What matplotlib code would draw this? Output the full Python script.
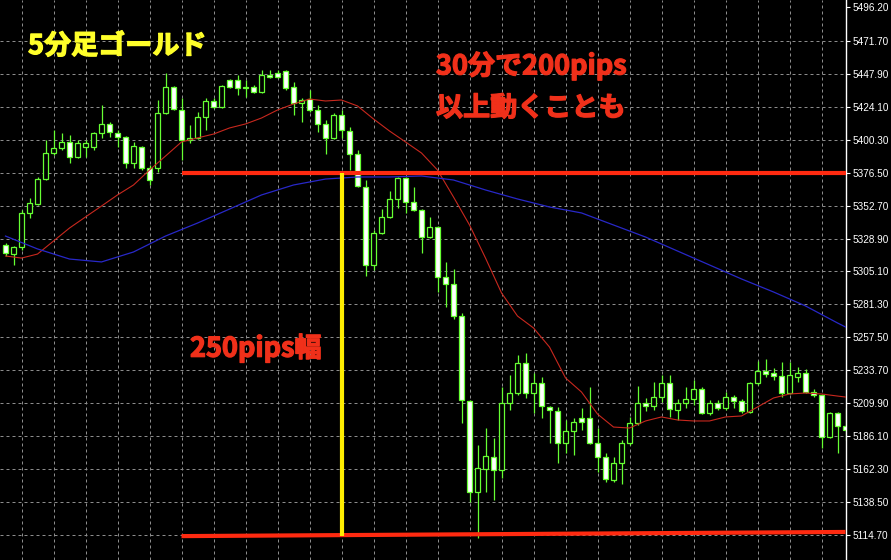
import matplotlib
matplotlib.use("Agg")
import matplotlib.pyplot as plt
import matplotlib.patheffects as pe

# 5-minute gold candles (106 bars)
opens = [
    5324.2, 5317.7, 5322.8, 5347.4, 5353.9, 5371.9, 5390.7, 5394.3, 5398.7, 5387.8,
    5395.1, 5395.1, 5405.2, 5411.7, 5405.2, 5402.3, 5383.5, 5395.1, 5379.9, 5379.9,
    5419.6, 5438.4, 5421.8, 5400.1, 5401.6, 5416.7, 5428.3, 5423.9, 5443.5, 5443.5,
    5438.4, 5438.4, 5434.8, 5447.1, 5448.5, 5450.0, 5438.4, 5426.8, 5429.7, 5421.8,
    5411.7, 5401.6, 5418.2, 5406.6, 5390.0, 5366.1, 5309.8, 5332.9, 5344.5, 5357.5,
    5372.7, 5355.3, 5349.5, 5330.0, 5337.2, 5301.1, 5296.1, 5272.9, 5211.5, 5145.8,
    5162.4, 5171.1, 5161.7, 5210.1, 5217.3, 5239.0, 5217.3, 5224.5, 5207.2, 5204.3,
    5181.2, 5189.9, 5199.2, 5199.2, 5181.2, 5171.1, 5154.4, 5166.7, 5181.2, 5195.6,
    5210.1, 5207.9, 5214.4, 5224.5, 5205.0, 5210.1, 5213.0, 5220.2, 5202.9, 5210.1,
    5206.5, 5214.4, 5211.5, 5203.6, 5224.5, 5233.2, 5231.8, 5229.6, 5217.3, 5228.9,
    5231.8, 5218.0, 5215.9, 5185.5, 5202.9, 5193.5,
]
highs = [
    5325.7, 5323.5, 5349.5, 5358.2, 5373.4, 5400.1, 5407.3, 5405.2, 5403.7, 5400.1,
    5400.1, 5405.9, 5425.4, 5413.1, 5407.3, 5403.0, 5398.7, 5395.8, 5382.0, 5429.0,
    5448.5, 5439.1, 5430.5, 5411.0, 5420.3, 5430.5, 5430.5, 5439.8, 5444.2, 5447.1,
    5443.5, 5439.8, 5450.7, 5450.7, 5450.7, 5450.7, 5442.0, 5430.5, 5436.2, 5425.4,
    5414.6, 5419.6, 5421.8, 5409.5, 5392.9, 5371.2, 5335.1, 5350.2, 5363.3, 5373.4,
    5373.4, 5366.1, 5350.2, 5344.5, 5338.0, 5312.0, 5306.9, 5275.1, 5212.2, 5179.7,
    5192.0, 5184.8, 5221.6, 5230.3, 5244.8, 5246.2, 5231.8, 5228.9, 5207.9, 5207.2,
    5197.8, 5199.2, 5206.5, 5221.6, 5192.0, 5174.0, 5171.1, 5183.4, 5200.0, 5222.3,
    5213.7, 5225.2, 5230.3, 5230.3, 5213.0, 5221.6, 5226.7, 5221.6, 5212.2, 5212.2,
    5218.0, 5215.9, 5213.0, 5225.2, 5240.4, 5241.9, 5235.4, 5239.7, 5239.7, 5236.1,
    5234.7, 5220.2, 5216.6, 5203.6, 5203.6, 5206.5,
]
lows = [
    5316.3, 5309.8, 5320.6, 5343.7, 5353.1, 5371.2, 5389.3, 5392.9, 5383.5, 5387.1,
    5387.8, 5392.9, 5401.6, 5402.3, 5395.1, 5379.9, 5379.9, 5378.4, 5367.6, 5377.0,
    5418.9, 5421.8, 5385.7, 5397.9, 5400.8, 5407.3, 5423.2, 5423.2, 5437.7, 5432.6,
    5431.2, 5434.1, 5434.1, 5444.9, 5444.9, 5436.2, 5418.2, 5413.1, 5420.3, 5405.9,
    5390.0, 5400.8, 5401.6, 5378.4, 5366.1, 5301.8, 5306.2, 5332.2, 5343.7, 5351.0,
    5347.4, 5348.8, 5318.5, 5329.3, 5290.3, 5279.4, 5270.8, 5195.6, 5138.5, 5112.5,
    5145.8, 5140.0, 5155.9, 5205.0, 5215.9, 5213.7, 5202.9, 5199.2, 5181.2, 5166.7,
    5174.0, 5172.5, 5190.6, 5180.5, 5160.2, 5153.0, 5153.0, 5151.5, 5179.7, 5194.2,
    5204.3, 5205.0, 5210.8, 5200.0, 5197.8, 5206.5, 5208.6, 5202.1, 5201.4, 5205.0,
    5205.0, 5206.5, 5202.9, 5202.9, 5223.1, 5228.9, 5226.7, 5214.4, 5216.6, 5225.2,
    5217.3, 5214.4, 5177.6, 5184.8, 5174.0, 5183.4,
]
closes = [
    5318.5, 5322.8, 5347.4, 5354.6, 5371.9, 5390.7, 5394.3, 5398.7, 5387.8, 5397.9,
    5397.9, 5405.2, 5411.7, 5405.9, 5402.3, 5383.5, 5395.8, 5379.9, 5371.2, 5419.6,
    5438.4, 5422.5, 5400.1, 5401.6, 5416.7, 5428.3, 5423.9, 5439.1, 5438.4, 5437.7,
    5437.7, 5434.8, 5447.1, 5445.6, 5445.6, 5437.7, 5426.8, 5429.0, 5421.8, 5411.7,
    5401.6, 5418.2, 5407.3, 5390.0, 5366.9, 5309.8, 5332.9, 5344.5, 5357.5, 5372.7,
    5355.3, 5349.5, 5330.0, 5337.2, 5301.1, 5296.1, 5272.9, 5212.2, 5145.8, 5163.1,
    5171.8, 5161.7, 5210.1, 5217.3, 5239.0, 5217.3, 5224.5, 5207.9, 5205.0, 5181.2,
    5189.9, 5196.4, 5196.4, 5181.2, 5171.1, 5155.2, 5166.7, 5181.2, 5195.6, 5210.1,
    5207.9, 5214.4, 5224.5, 5205.8, 5210.1, 5213.0, 5220.2, 5202.9, 5210.1, 5206.5,
    5214.4, 5211.5, 5204.3, 5224.5, 5233.2, 5231.0, 5229.6, 5217.3, 5230.3, 5231.8,
    5218.0, 5215.9, 5185.5, 5202.9, 5193.5, 5190.6,
]

# moving averages (bar index -> price)
ma_fast_idx = list(range(0, 105, 2)) + [105]
ma_fast = [
    5316.3, 5314.8, 5317.7, 5327.1, 5336.5, 5344.5, 5352.4, 5360.4, 5367.6, 5378.4,
    5388.5, 5398.7, 5401.6, 5404.4, 5408.8, 5411.7, 5416.0, 5421.8, 5426.1, 5429.7,
    5428.3, 5429.0, 5424.7, 5415.3, 5406.6, 5398.7, 5390.7, 5378.4, 5358.9, 5338.7,
    5314.8, 5289.6, 5272.9, 5264.3, 5250.5, 5228.2, 5218.0, 5202.1, 5192.7, 5192.0,
    5197.1, 5200.0, 5197.8, 5197.1, 5197.1, 5200.0, 5200.7, 5207.2, 5213.7, 5216.6,
    5217.3, 5216.6, 5215.1, 5214.4,
]
ma_slow_idx = list(range(0, 105, 4)) + [105]
ma_slow = [
    5330.7, 5321.4, 5314.1, 5312.0, 5319.2, 5330.7, 5340.1, 5350.2, 5360.4, 5367.6,
    5371.9, 5373.4, 5373.4, 5374.1, 5371.2, 5364.0, 5357.5, 5351.7, 5347.4, 5338.7,
    5330.0, 5319.9, 5309.8, 5299.7, 5290.3, 5280.2, 5267.9, 5265.0,
]

price_ticks = [5496.20, 5471.70, 5447.90, 5424.10, 5400.30, 5376.50, 5352.70,
               5328.90, 5305.10, 5281.30, 5257.50, 5233.70, 5209.90, 5186.10,
               5162.30, 5138.50, 5114.70]

upper_level = 5376.5
lower_level = (5113.9, 5116.9)   # slight slope left -> right
line_start = 22
move_idx = 42

GREEN = "#66ff33"
RED_TXT = "#f0301a"
JP = ["Noto Sans CJK JP", "DejaVu Sans"]

fig = plt.figure(figsize=(8.91, 5.60), dpi=100, facecolor="black")
ax = fig.add_axes([0, 0, 846 / 891, 1])
ax.set_facecolor("black")
ax.set_xlim(-0.6875, 105.06)
ax.set_ylim(5096.64, 5501.26)

# grid (MT4 style dashed)
for t in price_ticks[1:]:
    ax.axhline(t, color="#8c8c8c", lw=0.72, ls=(0, (3, 3)), zorder=0)
for gx in range(2, 106, 4):
    ax.axvline(gx, color="#8c8c8c", lw=0.72, ls=(0, (3, 3)), zorder=0)

# candles
idx = list(range(len(opens)))
ax.vlines(idx, lows, highs, color=GREEN, lw=0.9, zorder=2)
bottoms = [min(o, c) for o, c in zip(opens, closes)]
heights = [abs(c - o) for o, c in zip(opens, closes)]
fills = ["white" if c < o else "black" for o, c in zip(opens, closes)]
ax.bar(idx, heights, bottom=bottoms, width=0.62, color=fills,
       edgecolor=GREEN, linewidth=0.9, zorder=3)

# moving averages
ax.plot(ma_fast_idx, ma_fast, color="#c8281e", lw=0.8, zorder=4)
ax.plot(ma_slow_idx, ma_slow, color="#2828c8", lw=0.9, zorder=4)

# annotation lines
ax.plot([line_start, 105.06], [upper_level, upper_level], color="#ff2a10",
        lw=3.0, solid_capstyle="butt", zorder=5)
ax.plot([line_start, 105], list(lower_level), color="#ff2a10",
        lw=3.0, solid_capstyle="butt", zorder=5)
ax.plot([move_idx, move_idx], [lower_level[0], upper_level], color="#ffee00",
        lw=3.0, solid_capstyle="butt", zorder=5)


def label(x, y, s, color):
    ax.text(x / 846, 1 - y / 560, s, transform=ax.transAxes, color=color,
            fontsize=19.5, fontweight="bold", family=JP, ha="left", va="center",
            path_effects=[pe.withStroke(linewidth=0.9, foreground=color)])


label(28, 46, "5分足ゴールド", "#ffff2a")
label(436, 66, "30分で200pips", RED_TXT)
label(436, 108, "以上動くことも", RED_TXT)
label(190, 348, "250pips幅", RED_TXT)

# right price axis
ax.yaxis.tick_right()
ax.set_yticks(price_ticks)
ax.set_yticklabels([f"{t:.2f}" for t in price_ticks])
ax.tick_params(axis="y", colors="white", length=3, width=0.8, pad=1.8,
               labelsize=7.2)
for lab in ax.get_yticklabels():
    lab.set_family("Liberation Sans")
ax.set_xticks([])
for side in ["top", "bottom", "left"]:
    ax.spines[side].set_visible(False)
ax.spines["right"].set_color("white")
ax.spines["right"].set_linewidth(1.0)

fig.savefig("out.png", dpi=100, facecolor="black")
